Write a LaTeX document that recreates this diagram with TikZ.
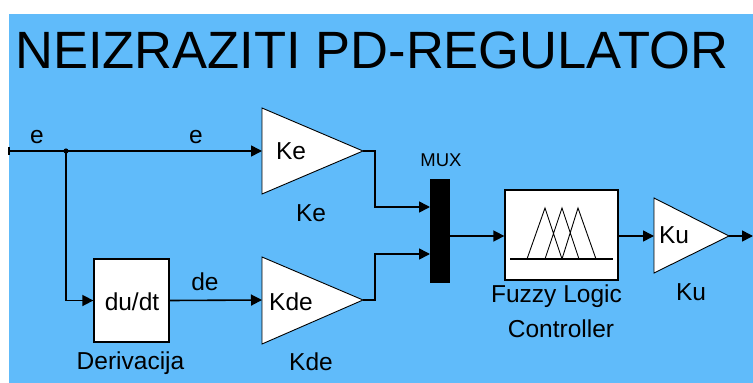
\documentclass[tikz,border=0pt]{standalone}
\usepackage{fontspec}
\setmainfont{Liberation Sans}
\usetikzlibrary{arrows.meta}
\definecolor{bgblue}{RGB}{96,187,250}
\tikzset{
  wire/.style={line width=1.6pt, line join=miter},
  arr/.style={wire, -{Triangle[length=11pt,width=11pt]}},
  lbl/.style={font=\fontsize{24.5}{28}\selectfont, inner sep=0pt, anchor=base},
  blk/.style={draw=black, line width=1.3pt, fill=white},
  gain/.style={draw=black, line width=0.9pt, fill=white},
}
\begin{document}
\begin{tikzpicture}[x=1pt,y=-1pt]
\useasboundingbox (0,0) rectangle (753,383);
\fill[white] (0,0) rectangle (753,383);
\fill[bgblue] (9,14) rectangle (753,383);
% title
\node[inner sep=0pt, anchor=base west, font=\fontsize{52.5}{60}\selectfont] (title) at (15,68) {NEIZRAZITI PD-REGULATOR};
% gain blocks
\draw[gain] (262,108) -- (363,151) -- (262,194) -- cycle;
\draw[gain] (262,257) -- (363,300) -- (262,344) -- cycle;
\draw[gain] (654,198) -- (729,236) -- (654,273) -- cycle;
\coordinate (kein) at (262,151);
\coordinate (keout) at (363,151);
\coordinate (kdein) at (262,300);
\coordinate (kdeout) at (363,300);
\coordinate (kuin) at (654,236);
\coordinate (kuout) at (729,236);
\node[lbl] (ketxt) at (291,159) {Ke};
\node[lbl] (kdetxt) at (291,310) {Kde};
\node[lbl] (kutxt) at (674,243) {Ku};
\node[lbl] (kelbl) at (311,221) {Ke};
\node[lbl] (kdelbl) at (311,370) {Kde};
\node[lbl] (kulbl) at (691,300) {Ku};
% derivative block
\node[blk, minimum width=75pt, minimum height=83pt, inner sep=0pt] (deriv) at (131.5,300.5) {};
\node[lbl] (dutxt) at (132,310) {du/dt};
\node[lbl] (derlbl) at (130.5,369) {Derivacija};
% mux
\node[fill=black, minimum width=20pt, minimum height=104pt, inner sep=0pt] (mux) at (440,231) {};
\node[inner sep=0pt, anchor=base, font=\fontsize{18.5}{20}\selectfont] (muxlbl) at (441,166) {MUX};
\coordinate (muxin1) at (430,207);
\coordinate (muxin2) at (430,254);
\coordinate (muxout) at (450,236);
% fuzzy controller
\node[blk, minimum width=113pt, minimum height=90pt, inner sep=0pt] (flc) at (561.5,235) {};
\draw[line width=1.6pt] (510,259) -- (613,259);
\draw[line width=0.9pt] (527,259) -- (545,208) -- (562,259)
  (545,259) -- (562,208) -- (579,259)
  (562,259) -- (578,208) -- (596,259);
\node[lbl] (flc1) at (556.5,302) {Fuzzy Logic};
\node[lbl] (flc2) at (561,337) {Controller};
% signal labels
\node[lbl] (e1) at (37,143) {e};
\node[lbl] (e2) at (196,143) {e};
\node[lbl] (de) at (205,290) {de};
% input
\coordinate (in) at (9,151);
\coordinate (junc) at (66,151);
\coordinate (out) at (753,236);
\draw[line width=2pt] (9,147) -- (9,155);
\draw[arr] (in) -- (kein);
\fill (junc) circle (2.6pt);
\draw[arr] (junc) |- (deriv.west);
\draw[arr] (deriv.east) -- (kdein);
\draw[arr] (keout) -- ++(12,0) |- (muxin1);
\draw[arr] (kdeout) -- ++(12,0) |- (muxin2);
\draw[arr] (muxout) -- (flc.west |- muxout);
\draw[arr] (flc.east |- kuin) -- (kuin);
\draw[arr] (kuout) -- (out);
\end{tikzpicture}
\end{document}
